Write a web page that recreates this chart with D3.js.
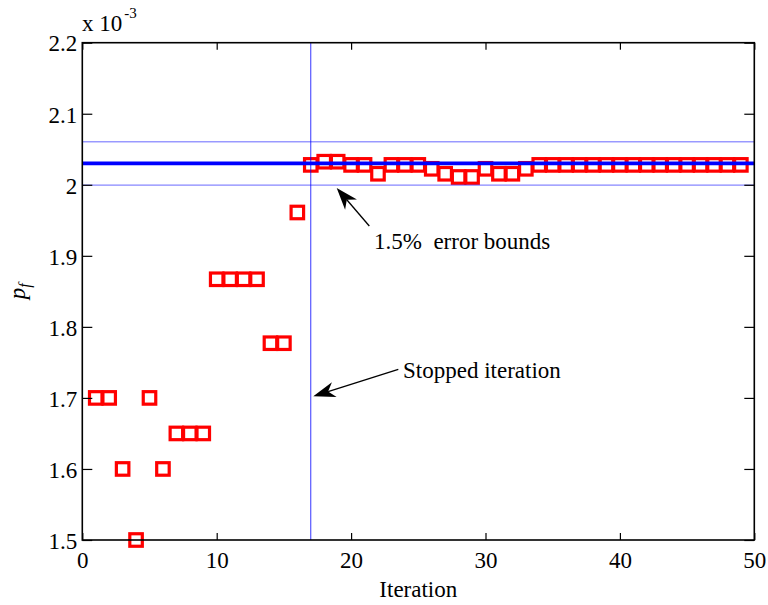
<!DOCTYPE html>
<html>
<head>
<meta charset="utf-8">
<script src="https://cdn.jsdelivr.net/npm/d3@7/dist/d3.min.js"></script>
<style>
  html, body { margin: 0; padding: 0; background: #fff; }
</style>
</head>
<body>
<svg id="chart" width="768" height="605"></svg>
<script>
// Failure-probability estimate (x 10^-3) at each iteration
const iterations = [1,2,3,4,5,6,7,8,9,10,11,12,13,14,15,16,17,18,19,20,21,22,23,24,25,
                    26,27,28,29,30,31,32,33,34,35,36,37,38,39,40,41,42,43,44,45,46,47,48,49];
const pfValues = [1.70,1.70,1.60,1.50,1.70,1.60,1.65,1.65,1.65,1.867,1.867,1.867,1.867,1.777,1.777,1.961,
                  2.028,2.0325,2.0325,2.028,2.028,2.0155,2.028,2.028,2.028,2.0225,2.0155,2.011,2.011,2.0225,
                  2.0155,2.0155,2.0225,
                  2.028,2.028,2.028,2.028,2.028,2.028,2.028,2.028,2.028,2.028,2.028,2.028,2.028,2.028,2.028,2.028];
const referencePf = [2.03];          // converged value
const errorBound = [0.015];          // relative bound, 1.5%
const stopIteration = [17];
const xTicks = [0,10,20,30,40,50];
const yTicks = [1.5,1.6,1.7,1.8,1.9,2.0,2.1,2.2];
const yTickLabels = ["1.5","1.6","1.7","1.8","1.9","2","2.1","2.2"];

const SERIF = "'Liberation Serif', 'Times New Roman', serif";
const FS = "23px";

const svg = d3.select("#chart");
const L = 82.3, R = 754.3, T = 42.7, B = 540;
const x = d3.scaleLinear().domain([0, 50]).range([L, R]);
const y = d3.scaleLinear().domain([1.5, 2.2]).range([B, T]);

function label(sel) {
  return sel.style("font-family", SERIF).style("font-size", FS).attr("fill", "#000");
}

// markers
const sq = 12.5;
svg.append("g").selectAll("rect")
  .data(iterations.map((it, i) => ({it, v: pfValues[i]})))
  .join("rect")
  .attr("x", d => x(d.it) - sq / 2)
  .attr("y", d => y(d.v) - sq / 2)
  .attr("width", sq).attr("height", sq)
  .attr("fill", "none").attr("stroke", "#ff0000").attr("stroke-width", 3.2);

// reference line and error bounds
const ref = referencePf[0], eb = errorBound[0];
const lines = svg.append("g");
[ref * (1 + eb), ref * (1 - eb)].forEach(v => {
  lines.append("line")
    .attr("x1", x(0)).attr("x2", x(50))
    .attr("y1", y(v)).attr("y2", y(v))
    .attr("stroke", "#0000ff").attr("stroke-width", 0.6);
});
lines.append("line")
  .attr("x1", x(0)).attr("x2", x(50))
  .attr("y1", y(ref)).attr("y2", y(ref))
  .attr("stroke", "#0000ff").attr("stroke-width", 3.8);
lines.append("line")
  .attr("x1", x(stopIteration[0])).attr("x2", x(stopIteration[0]))
  .attr("y1", T).attr("y2", B)
  .attr("stroke", "#0000ff").attr("stroke-width", 0.8);

// axes
const xAxis = d3.axisBottom(x).tickValues(xTicks).tickSize(-7).tickPadding(12)
  .tickFormat(d3.format("d"));
const yAxis = d3.axisLeft(y).tickValues(yTicks).tickSize(-10).tickPadding(5)
  .tickFormat((d, i) => yTickLabels[i]);

const gx = svg.append("g").attr("transform", `translate(0,${B})`).call(xAxis);
const gy = svg.append("g").attr("transform", `translate(${L},0)`).call(yAxis);
const gxTop = svg.append("g").attr("transform", `translate(0,${T})`)
  .call(d3.axisTop(x).tickValues(xTicks).tickSize(-7).tickFormat(""));
const gyRight = svg.append("g").attr("transform", `translate(${R},0)`)
  .call(d3.axisRight(y).tickValues(yTicks).tickSize(-10).tickFormat(""));

[gx, gy, gxTop, gyRight].forEach(g => {
  g.attr("font-family", null).attr("font-size", null);
  g.select(".domain").remove();
  g.selectAll(".tick line").attr("stroke", "#000").attr("stroke-width", 1.2);
  label(g.selectAll(".tick text"));
});
gy.selectAll(".tick text").attr("dy", "0.36em");

// box
svg.append("rect")
  .attr("x", L).attr("y", T).attr("width", R - L).attr("height", B - T)
  .attr("fill", "none").attr("stroke", "#000").attr("stroke-width", 1.6);

// axis labels
label(svg.append("text")).attr("x", (L + R) / 2).attr("y", 597)
  .attr("text-anchor", "middle").text("Iteration");

const yl = label(svg.append("text"))
  .attr("transform", `translate(25,${(T + B) / 2}) rotate(-90)`)
  .attr("text-anchor", "middle");
yl.append("tspan").style("font-style", "italic").text("p");
yl.append("tspan").style("font-style", "italic").style("font-size", "16px").attr("dy", 5).text("f");

// exponent
const ex = label(svg.append("text")).attr("x", 82).attr("y", 31);
ex.append("tspan").text("x 10");
ex.append("tspan").style("font-size", "15px").attr("dy", -13).attr("dx", 2).text("-3");

// annotation arrows
function arrow(x1, y1, x2, y2) {
  const dx = x1 - x2, dy = y1 - y2, len = Math.hypot(dx, dy);
  const ux = dx / len, uy = dy / len, px = -uy, py = ux;
  const hl = 22, hw = 7.8, notch = 15.5;
  svg.append("line").attr("x1", x1).attr("y1", y1)
    .attr("x2", x2 + ux * notch).attr("y2", y2 + uy * notch)
    .attr("stroke", "#000").attr("stroke-width", 1.3);
  const p = [
    [x2, y2],
    [x2 + ux * hl + px * hw, y2 + uy * hl + py * hw],
    [x2 + ux * notch, y2 + uy * notch],
    [x2 + ux * hl - px * hw, y2 + uy * hl - py * hw]
  ];
  svg.append("path").attr("d", "M" + p.map(q => q.join(",")).join("L") + "Z").attr("fill", "#000");
}
arrow(398.3, 369.3, 313.3, 396.2);
label(svg.append("text")).attr("x", 403).attr("y", 378).text("Stopped iteration");

arrow(369.3, 226, 336.7, 188);
label(svg.append("text")).attr("x", 374).attr("y", 248.5)
  .style("white-space", "pre").text("1.5%  error bounds");
</script>
</body>
</html>
